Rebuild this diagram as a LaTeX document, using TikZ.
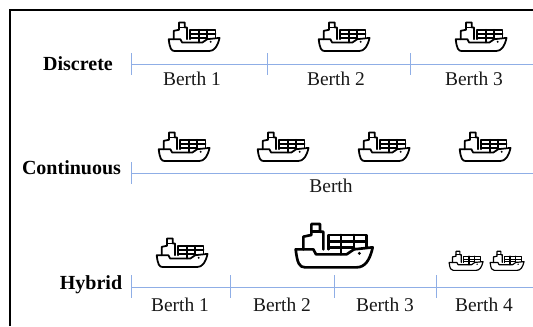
\documentclass[tikz,border=0pt]{standalone}
\usepackage{fontspec}
\setmainfont{Liberation Serif}
\definecolor{berthblue}{HTML}{8FAEE6}
\tikzset{
  x=0.75pt,y=-0.75pt,
  axisline/.style={draw=berthblue,line width=0.6pt},
  berthlabel/.style={font=\fontsize{14.6}{16}\selectfont,text=black!90,inner sep=0pt,anchor=center},
  rowlabel/.style={font=\fontsize{15}{16}\selectfont\bfseries,inner sep=0pt,anchor=center},
  pics/ship/.style={code={
    \begin{scope}[x=0.25pt*#1,y=-0.25pt*#1,shift={(-162,-108)},line width=#1*2pt,line join=round,line cap=round]
      \draw (47,118) -- (100,118) -- (108,133) -- (200,133) -- (222,118) -- (278,112)
            .. controls (270,150) and (255,172) .. (230,172) -- (75,172)
            .. controls (58,172) and (52,160) .. cycle;
      \draw (70,118) -- (70,80) -- (94,75) -- (94,42) -- (120,42) -- (120,65) -- (130,65) -- (130,118);
      \draw (94,65) -- (120,65);
      \draw (145,118) -- (145,75) -- (260,75) -- (260,112);
      \draw (145,95) -- (260,95) (145,113) -- (222,113);
      \draw (183,75) -- (183,133) (222,75) -- (222,118);
      \fill (238,130) circle (5);
    \end{scope}
  }}
}
\begin{document}
\begin{tikzpicture}
\useasboundingbox (0,0) rectangle (533,326);
\draw[line width=1.3pt] (10,326) -- (10,10) -- (533,10);
% Discrete
\node[rowlabel] (d) at (78,64) {Discrete};
\coordinate (da) at (131,64); \coordinate (db) at (533,64);
\draw[axisline] (da) -- (db);
\foreach \p in {131,267,410} \draw[axisline] (\p,53) -- (\p,75);
\node[berthlabel] (d1) at (192,79) {Berth 1};
\node[berthlabel] (d2) at (336,79) {Berth 2};
\node[berthlabel] (d3) at (474,79) {Berth 3};
\pic at (194,37) {ship=0.66};
\pic at (344,37) {ship=0.66};
\pic at (481,37) {ship=0.66};
% Continuous
\node[rowlabel] (c) at (71.5,168) {Continuous};
\coordinate (ca) at (131,173); \coordinate (cb) at (533,173);
\draw[axisline] (ca) -- (cb);
\draw[axisline] (131,162) -- (131,184);
\node[berthlabel] (c1) at (331,186) {Berth};
\pic at (184,147) {ship=0.66};
\pic at (283,147) {ship=0.66};
\pic at (384,147) {ship=0.66};
\pic at (485,147) {ship=0.66};
% Hybrid
\node[rowlabel] (h) at (91,285) {Hybrid};
\coordinate (ha) at (131,287); \coordinate (hb) at (533,287);
\draw[axisline] (ha) -- (hb);
\foreach \p in {131,230,334,436} \draw[axisline] (\p,275) -- (\p,298);
\node[berthlabel] (h1) at (180,305) {Berth 1};
\node[berthlabel] (h2) at (282,305) {Berth 2};
\node[berthlabel] (h3) at (385,305) {Berth 3};
\node[berthlabel] (h4) at (484,305) {Berth 4};
\pic at (182,253) {ship=0.66};
\pic at (334,246) {ship=1};
\pic at (466,261) {ship=0.44};
\pic at (507,261) {ship=0.44};
\end{tikzpicture}
\end{document}
